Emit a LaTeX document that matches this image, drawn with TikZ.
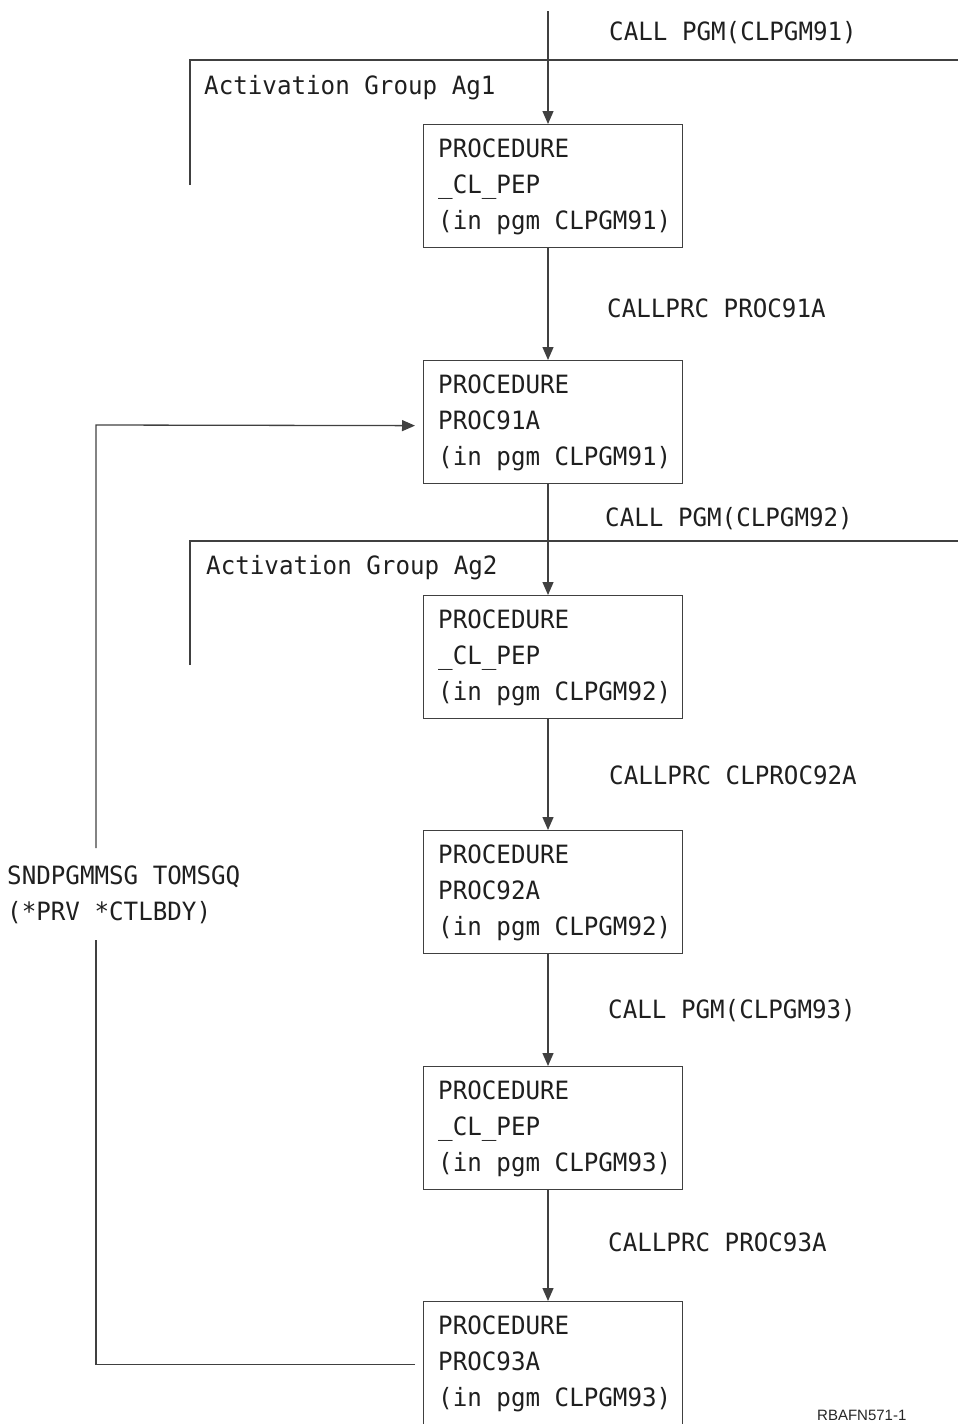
\documentclass[tikz,border=0pt]{standalone}
\usepackage{fontspec}
\newfontfamily\monofont[FakeStretch=0.96]{DejaVu Sans Mono}
\newfontfamily\smallsans{Liberation Sans}
\usetikzlibrary{arrows.meta}
\newcommand\procbox[6]{% name, top y, height, l1, l2, l3
  \node[boxstyle, minimum height=#3pt] (#1) at (423,#2) {};
  \node[txt] (#1a) at (438,#2+33) {#4};
  \node[txt] (#1b) at (438,#2+69) {#5};
  \node[txt] (#1c) at (438,#2+105) {#6};
}
\begin{document}
\begin{tikzpicture}[x=1pt,y=-1pt,
  line/.style={draw=black!75, line width=1.3pt},
  arr/.style={line, -{Triangle[length=13pt,width=11pt]}},
  boxstyle/.style={draw=black!75, line width=1.3pt, minimum width=259pt, inner sep=0pt, anchor=north west},
  txt/.style={font=\monofont\fontsize{25.2}{36}\selectfont, text=black!88, inner sep=0pt, anchor=base west},
]
\useasboundingbox (0,0) rectangle (958,1424);

% boxes
\procbox{b1}{124}{123}{PROCEDURE}{\_CL\_PEP}{(in pgm CLPGM91)}
\procbox{b2}{360}{123}{PROCEDURE}{PROC91A}{(in pgm CLPGM91)}
\procbox{b3}{595}{123}{PROCEDURE}{\_CL\_PEP}{(in pgm CLPGM92)}
\procbox{b4}{830}{123}{PROCEDURE}{PROC92A}{(in pgm CLPGM92)}
\procbox{b5}{1066}{123}{PROCEDURE}{\_CL\_PEP}{(in pgm CLPGM93)}
\procbox{b6}{1301}{125}{PROCEDURE}{PROC93A}{(in pgm CLPGM93)}

% activation groups
\coordinate (ag1l) at (190,185);
\coordinate (ag1c) at (190,60);
\coordinate (ag1r) at (958,60);
\draw[line] (ag1l) -- (ag1c) -- (ag1r);
\node[txt] (ag1) at (204,94) {Activation Group Ag1};

\coordinate (ag2l) at (190,665);
\coordinate (ag2c) at (190,541);
\coordinate (ag2r) at (958,541);
\draw[line] (ag2l) -- (ag2c) -- (ag2r);
\node[txt] (ag2) at (206,574) {Activation Group Ag2};

% main column
\coordinate (top) at (548,11);
\draw[arr] (top) -- (b1.north -| top);
\draw[arr] (b1.south -| top) -- (b2.north -| top);
\draw[arr] (b2.south -| top) -- (b3.north -| top);
\draw[arr] (b3.south -| top) -- (b4.north -| top);
\draw[arr] (b4.south -| top) -- (b5.north -| top);
\draw[arr] (b5.south -| top) -- (b6.north -| top);

% call labels
\node[txt] (c1) at (609,40) {CALL PGM(CLPGM91)};
\node[txt] (c2) at (607,317) {CALLPRC PROC91A};
\node[txt] (c3) at (605,526) {CALL PGM(CLPGM92)};
\node[txt] (c4) at (609,784) {CALLPRC CLPROC92A};
\node[txt] (c5) at (608,1018) {CALL PGM(CLPGM93)};
\node[txt] (c6) at (608,1251) {CALLPRC PROC93A};

% feedback
\coordinate (fb2) at (96,940);
\coordinate (fb3) at (96,848);
\coordinate (fb4) at (96,425);
\draw[line, shorten <=8pt] (b6.west) -| (fb2);
\draw[arr, shorten >=8pt] (fb3) -- (fb4) -- ([yshift=-3.5pt]b2.west);
\node[txt] (m1) at (7,884) {SNDPGMMSG TOMSGQ};
\node[txt] (m2) at (7,920) {(*PRV *CTLBDY)};

% figure id
\node[font=\smallsans\fontsize{15}{18}\selectfont, text=black!85, inner sep=0pt, anchor=base west] (fid) at (817,1420) {RBAFN571-1};
\end{tikzpicture}
\end{document}
